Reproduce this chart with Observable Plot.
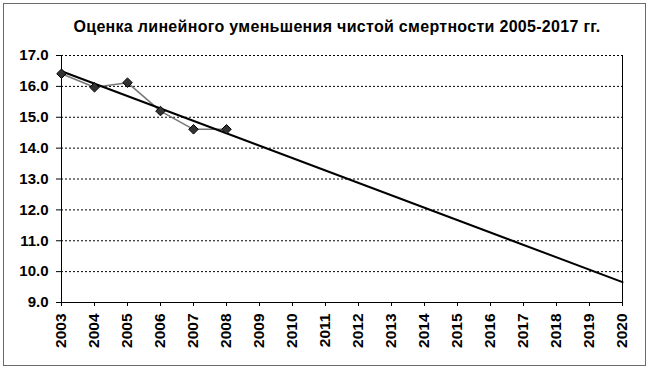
<!DOCTYPE html>
<html>
<head>
<meta charset="utf-8">
<script src="https://cdn.jsdelivr.net/npm/d3@7"></script>
<script src="https://cdn.jsdelivr.net/npm/@observablehq/plot@0.6"></script>
<style>
  body { margin: 0; background: #fff; }
  #wrap { position: relative; width: 650px; height: 370px; overflow: hidden; background: #fff;
          font-family: "Liberation Sans", Arial, sans-serif; }
  #frame { position: absolute; left: 3px; top: 3px; width: 643px; height: 363px;
           border: 1px solid #6a6a6a; box-sizing: border-box; pointer-events: none; }
  #title { position: absolute; left: 12px; top: 19px; width: 650px; text-align: center;
           font-size: 16px; font-weight: bold; line-height: 1; color: #000; letter-spacing: 0.3px; }
  #chart { position: absolute; left: 0; top: 40px; }
</style>
</head>
<body>
<div id="wrap">
  <div id="title">Оценка линейного уменьшения чистой смертности 2005-2017 гг.</div>
  <div id="chart"></div>
  <div id="frame"></div>
</div>
<script>
// Observed data
const years = [2003, 2004, 2005, 2006, 2007, 2008];
const values = [16.41, 15.97, 16.12, 15.2, 14.61, 14.61];
// Linear trend line endpoints
const trendYears = [2003, 2020];
const trendValues = [16.49, 9.66];
// Axis ticks
const xTicks = [2003, 2004, 2005, 2006, 2007, 2008, 2009, 2010, 2011, 2012, 2013, 2014, 2015, 2016, 2017, 2018, 2019, 2020];
const yTicks = [9, 10, 11, 12, 13, 14, 15, 16, 17];
const gridLines = [10, 11, 12, 13, 14, 15, 16, 17];

const obs = years.map((y, i) => ({year: y, value: values[i]}));
const trend = trendYears.map((y, i) => ({year: y, value: trendValues[i]}));

const chart = Plot.plot({
  width: 650,
  height: 330,
  marginLeft: 61,
  marginRight: 28,
  marginTop: 15,
  marginBottom: 68,
  style: { fontFamily: '"Liberation Sans", Arial, sans-serif', color: "#000", background: "transparent" },
  x: { domain: [2003, 2020] },
  y: { domain: [9, 17] },
  marks: [
    Plot.ruleY(gridLines, { stroke: "#000", strokeWidth: 1, strokeDasharray: "2,2" }),
    Plot.ruleX([2020], { stroke: "#000", strokeWidth: 1 }),
    Plot.ruleX([2003], { stroke: "#000", strokeWidth: 1 }),
    Plot.ruleY([9], { stroke: "#000", strokeWidth: 1 }),
    Plot.axisY({ ticks: yTicks, tickFormat: d => d.toFixed(1), tickSize: 5, tickPadding: 8,
                 fontSize: 15, fontWeight: "bold", label: null, stroke: "#000" }),
    Plot.axisX({ ticks: xTicks, tickFormat: d => String(d), tickSize: 4, tickPadding: 7, tickRotate: -90,
                 fontSize: 15.5, fontWeight: "bold", label: null, stroke: "#000" }),
    Plot.line(obs, { x: "year", y: "value", stroke: "#777", strokeWidth: 1.5 }),
    Plot.line(trend, { x: "year", y: "value", stroke: "#000", strokeWidth: 2 }),
    Plot.dot(obs, { x: "year", y: "value", symbol: "diamond2", r: 4.3, fill: "#333", stroke: "#000", strokeWidth: 1 })
  ]
});
document.getElementById("chart").appendChild(chart);
</script>
</body>
</html>
